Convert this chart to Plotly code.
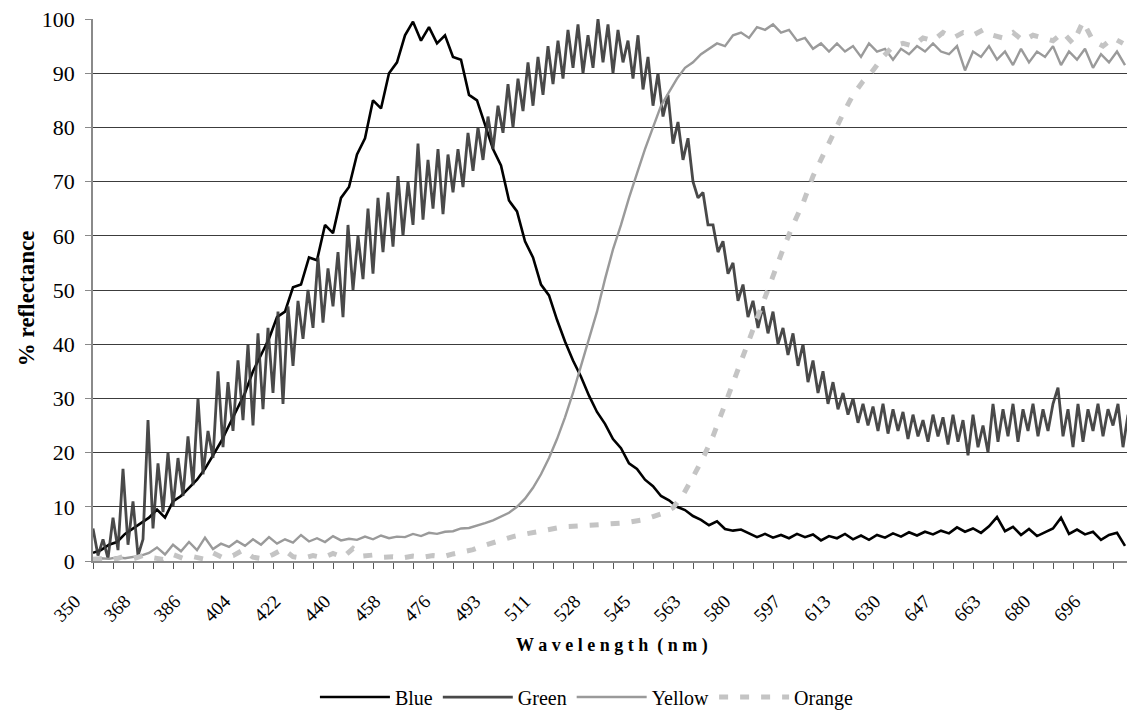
import plotly.graph_objects as go

# x axis: sample index along the spectrometer's wavelength axis (category-like)
tick_labels = ["350", "368", "386", "404", "422", "440", "458", "476", "493", "511", "528",
               "545", "563", "580", "597", "613", "630", "647", "663", "680", "696"]
tick_positions = list(range(0, 1001, 50))

blue_x = list(range(0, 1033, 8))
blue = [1.5, 2, 3, 3.5, 5, 6, 7, 8, 9.5, 8, 11, 12, 13.5, 15, 17, 19.5, 22, 25, 28, 31,
        35, 38, 41, 45, 46, 50.5, 51, 56, 55.5, 62, 60.5, 67, 69, 75, 78, 85, 83.5, 90, 92, 97,
        99.5, 96, 98.5, 95.5, 97, 93, 92.5, 86, 85, 80.5, 76, 73, 66.5, 64.5, 59, 56, 51, 49, 44.5, 40.5,
        37, 34, 30.5, 27.5, 25.3, 22.5, 20.8, 18, 17, 15, 13.8, 12, 11.2, 10, 9.4, 8.3, 7.6, 6.6, 7.3, 5.9,
        5.6, 5.8, 5.1, 4.4, 5, 4.3, 4.8, 4.2, 5, 4.4, 4.9, 3.8, 4.6, 4.2, 5, 4, 4.7, 3.9, 4.8, 4.3,
        5.1, 4.5, 5.3, 4.7, 5.4, 4.9, 5.6, 5.1, 6.2, 5.4, 6, 5.2, 6.4, 8.1, 5.5, 6.3, 4.8, 5.9, 4.6, 5.3,
        6, 8, 5, 5.8, 4.9, 5.4, 3.9, 4.8, 5.2, 2.8]

green_x = list(range(0, 1036, 5))
green = [6, 1, 4, 0.5, 8, 2, 17, 3, 11, 1,
         4, 26, 6, 18, 9, 20, 10, 19, 12, 23,
         14, 30, 16, 24, 19, 35, 21, 33, 24, 37,
         26, 40, 25, 42, 28, 43, 31, 46, 29, 47,
         36, 48, 41, 50, 43, 56, 44, 54, 47, 57,
         45, 62, 50, 60, 52, 65, 53, 67, 57, 68,
         58, 71, 60, 70, 62, 77, 63, 74, 65, 76,
         64, 75, 68, 76, 69, 79, 72, 80, 74, 82,
         76, 84, 79, 88, 80, 89, 83, 92, 84, 93,
         86, 95, 88, 96, 89, 98, 91, 99, 90, 97,
         91, 100, 92, 99, 90, 98, 92, 96, 89, 97,
         87, 93, 84, 90, 82, 86, 77, 81, 74, 78,
         70, 67, 68, 62, 62, 57, 59, 53, 55, 48,
         51, 45, 48, 43, 47, 42, 46, 40, 43, 38,
         42, 36, 40, 33, 37, 31, 35, 29, 33, 28,
         31, 27, 30, 25.5, 29, 25, 28.5, 24, 29, 23.5,
         28, 24, 27.5, 22.5, 27, 23, 26, 22, 27, 23,
         26.5, 21.5, 27, 22, 26, 19.5, 27, 21, 25, 20,
         29, 22, 28, 23, 29, 22, 28, 24, 29, 23,
         28, 24, 29, 32, 23, 28, 21, 29, 22, 28,
         24, 29, 23, 28, 25, 29, 21, 27]

yellow_x = list(range(0, 1033, 8))
yellow = [0.3, 0.5, 0.4, 0.7, 0.5, 0.8, 1.0, 1.5, 2.5, 1.2,
          3, 1.8, 3.5, 2, 4.3, 2.2, 3.2, 2.6, 3.7, 2.8,
          4, 3, 4.4, 3.2, 4, 3.4, 4.8, 3.6, 4.2, 3.5,
          4.6, 3.8, 4.1, 3.9, 4.5, 4, 4.7, 4.2, 4.5, 4.4,
          5, 4.6, 5.2, 5, 5.4, 5.5, 6, 6.1, 6.5, 7,
          7.5, 8.2, 8.9, 10, 11.5, 13.5, 16, 19, 22.5, 26.5,
          31, 36, 41, 46, 52, 57.5, 62, 67, 71.5, 76,
          80, 84, 86.5, 89, 91, 92, 93.5, 94.5, 95.5, 95,
          97, 97.5, 96.5, 98.5, 98, 99, 97.5, 98, 96, 96.5,
          94.5, 95.5, 94, 95.5, 94, 95, 93, 95.5, 94, 94.5,
          92.5, 94.5, 93.5, 95, 94, 95.5, 94, 93.5, 95, 90.5,
          94, 93, 95, 92.5, 94, 91.5, 94.5, 92, 94, 93,
          95, 91.5, 94, 92.5, 94.5, 91, 93.5, 92, 94, 91.5]

orange_x = list(range(0, 1031, 10))
orange = [0.3, 0.5, 0.2, 0.8, 0.4, 1.0, 0.6, 0.3, 1.2, 0.5,
          0.8, 0.4, 1.5, 0.6, 1.0, 2.0, 0.7, 0.4, 1.2, 2.2,
          0.8, 0.5, 1.0, 0.6, 1.4, 0.7, 2.3, 0.9, 1.1, 0.7,
          0.8, 0.6, 0.9, 0.7, 1.0, 0.8, 1.3, 1.6, 2.1, 2.8,
          3.4, 4.0, 4.5, 4.9, 5.3, 5.7, 6.0, 6.3, 6.4, 6.5,
          6.7, 6.6, 6.9, 7.0, 7.3, 7.6, 8.2, 8.8, 9.8, 12.2,
          15.5, 19, 23, 28, 33, 37.5, 43, 48, 53, 57.5,
          62, 66, 71, 75, 79, 82.5, 86, 88.5, 90.5, 93,
          95, 95.5, 95, 96.5, 96, 97.5, 96.5, 97.5, 97, 98,
          97, 96.5, 97.5, 96, 97, 96.5, 96, 97.5, 95.5, 99.5,
          96, 95, 96.5, 95.5]

FONT = "Liberation Serif"

fig = go.Figure()
fig.add_trace(go.Scatter(x=blue_x, y=blue, mode="lines", name="Blue",
                         line=dict(color="#000000", width=2.6)))
fig.add_trace(go.Scatter(x=green_x, y=green, mode="lines", name="Green",
                         line=dict(color="#3a3a3a", width=2.8), opacity=0.92))
fig.add_trace(go.Scatter(x=yellow_x, y=yellow, mode="lines", name="Yellow",
                         line=dict(color="#9a9a9a", width=2.4)))
fig.add_trace(go.Scatter(x=orange_x, y=orange, mode="lines", name="Orange",
                         line=dict(color="#c4c4c4", width=5, dash="9px,12px")))

# the page body adds an 8px margin, so the figure is sized/margined to compensate
fig.update_layout(
    width=1127, height=715,
    margin=dict(l=85, r=5, t=11, b=162, autoexpand=False),
    paper_bgcolor="white", plot_bgcolor="white",
    font=dict(family=FONT, color="#000000", size=19),
    showlegend=True,
    legend=dict(orientation="h", x=0.214, xanchor="left", y=-0.251, yanchor="middle",
                font=dict(family=FONT, size=20), itemwidth=70, tracegroupgap=0,
                bgcolor="rgba(0,0,0,0)", traceorder="normal"),
    annotations=[
        dict(text="<b>W a v e l e n g t h  ( n m )</b>", xref="paper", yref="paper",
             x=0.5, y=-0.1568, xanchor="center", yanchor="middle", showarrow=False,
             font=dict(family=FONT, size=18)),
        dict(text="<b>% reflectance</b>", xref="paper", yref="paper",
             x=-0.0646, y=0.485, xanchor="center", yanchor="middle", showarrow=False,
             textangle=-90, font=dict(family=FONT, size=23)),
    ],
)

fig.update_xaxes(
    range=[0, 1037], tickmode="array", tickvals=tick_positions, ticktext=tick_labels,
    tickangle=-45, ticks="", showgrid=False, zeroline=False, automargin=False,
    showline=True, linecolor="#8a8a8a", linewidth=1.5,
    tickfont=dict(family=FONT, size=19), ticklabeloverflow="allow",
    ticklabelshift=-18, ticklabelstandoff=20,
    minor=dict(dtick=20, tick0=0, ticks="outside", ticklen=6, tickcolor="#555555",
               tickwidth=1.3, showgrid=False),
)
fig.update_yaxes(
    range=[0, 100], dtick=10, tick0=0, showgrid=True, gridcolor="#3c3c3c", gridwidth=1.3,
    zeroline=False, showline=True, linecolor="#8a8a8a", linewidth=1.5, automargin=False,
    ticks="outside", ticklen=6, tickcolor="#8a8a8a", tickwidth=1.3,
    tickfont=dict(family=FONT, size=22), ticklabelstandoff=6, ticklabeloverflow="allow",
)

fig.write_html("out.html")
